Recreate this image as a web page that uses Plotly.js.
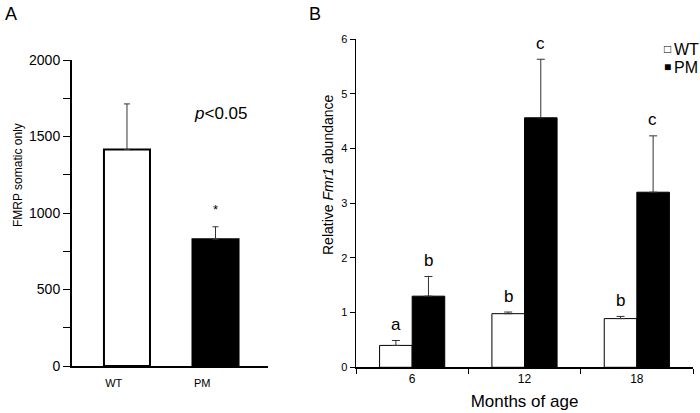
<!DOCTYPE html>
<html>
<head>
<meta charset="utf-8">
<script src="https://cdn.plot.ly/plotly-3.0.1.min.js"></script>
<style>html,body{margin:0;padding:0;background:#fff;}#chart{width:700px;height:413px;}</style>
</head>
<body>
<div id="chart"></div>
<script>
// Panel A data
const groupsA = ['WT', 'PM'];
const somaticA = [1415, 828];
const somaticErrA = [298, 82];
const yTicksA = [0, 250, 500, 750, 1000, 1250, 1500, 1750, 2000];
const yTickTextA = ['0', '', '500', '', '1000', '', '1500', '', '2000'];
// Panel B data
const months = ['6', '12', '18'];
const wtB = [0.40, 0.98, 0.89];
const wtErrB = [0.09, 0.03, 0.04];
const pmB = [1.30, 4.56, 3.20];
const pmErrB = [0.36, 1.07, 1.03];
const wtLetters = ['a', 'b', 'b'];
const pmLetters = ['b', 'c', 'c'];
const seriesNames = ['WT', 'PM'];

const FONT = 'Liberation Sans, Arial, sans-serif';
const W = 700, H = 413;
const px = v => v / W;
const py = v => (H - v) / H;

const posA = groupsA.map((_, i) => i);

const traces = [
  {
    type: 'bar', x: posA, y: somaticA, width: 0.52,
    xaxis: 'x', yaxis: 'y', showlegend: false,
    marker: { color: ['#ffffff', '#000000'], line: { color: '#000', width: 2 } },
    error_y: { type: 'data', array: somaticErrA, arrayminus: somaticA.map(() => 0), symmetric: false,
               color: '#333', thickness: 1, width: 3 }
  },
  {
    type: 'bar', name: seriesNames[0], x: months, y: wtB,
    xaxis: 'x2', yaxis: 'y2', showlegend: false,
    marker: { color: '#ffffff', line: { color: '#000', width: 1 } },
    error_y: { type: 'data', array: wtErrB, arrayminus: wtB.map(() => 0), symmetric: false,
               color: '#333', thickness: 1, width: 4 }
  },
  {
    type: 'bar', name: seriesNames[1], x: months, y: pmB,
    xaxis: 'x2', yaxis: 'y2', showlegend: false,
    marker: { color: '#000000', line: { color: '#000', width: 1 } },
    error_y: { type: 'data', array: pmErrB, arrayminus: pmB.map(() => 0), symmetric: false,
               color: '#333', thickness: 1, width: 4 }
  }
];

const annotations = [];
// Panel letters
annotations.push({ xref: 'paper', yref: 'paper', x: px(3), y: py(2), xanchor: 'left', yanchor: 'top',
  text: 'A', showarrow: false, font: { family: FONT, size: 18, color: '#000' } });
annotations.push({ xref: 'paper', yref: 'paper', x: px(307), y: py(2), xanchor: 'left', yanchor: 'top',
  text: 'B', showarrow: false, font: { family: FONT, size: 18, color: '#000' } });
// Axis titles
annotations.push({ xref: 'paper', yref: 'paper', x: px(9), y: py(175), textangle: -90,
  text: 'FMRP somatic only', showarrow: false, font: { family: FONT, size: 12, color: '#000' } });
annotations.push({ xref: 'paper', yref: 'paper', x: px(328), y: py(175), textangle: -90,
  text: 'Relative <i>Fmr1</i> abundance', showarrow: false, font: { family: FONT, size: 14, color: '#000' } });
// Panel A significance
annotations.push({ xref: 'x', yref: 'y', x: 1.06, y: 1650, text: '<i>p</i>&lt;0.05', showarrow: false,
  font: { family: FONT, size: 17, color: '#000' } });
annotations.push({ xref: 'x', yref: 'y', x: posA[1], y: somaticA[1] + somaticErrA[1], yshift: 17,
  text: '*', showarrow: false, font: { family: FONT, size: 13, color: '#000' } });
// Panel B letters (category index positions)
months.forEach((m, i) => {
  annotations.push({ xref: 'x2', yref: 'y2', x: i, y: wtB[i] + wtErrB[i], xshift: -16, yshift: 16,
    text: wtLetters[i], showarrow: false, font: { family: FONT, size: 17, color: '#000' } });
  annotations.push({ xref: 'x2', yref: 'y2', x: i, y: pmB[i] + pmErrB[i], xshift: 16, yshift: 16,
    text: pmLetters[i], showarrow: false, font: { family: FONT, size: 17, color: '#000' } });
});
// Legend (key) for panel B
const legendSymbols = ['□', '■'];
const legendRows = [49, 67];
seriesNames.forEach((name, i) => {
  annotations.push({ xref: 'paper', yref: 'paper', x: px(667), y: py(legendRows[i]), xanchor: 'center', yanchor: 'middle',
    text: legendSymbols[i], showarrow: false, font: { family: FONT, size: 12, color: '#000' } });
  annotations.push({ xref: 'paper', yref: 'paper', x: px(672), y: py(legendRows[i]), xanchor: 'left', yanchor: 'middle',
    text: name, showarrow: false, font: { family: FONT, size: 16, color: '#000' } });
});

const layout = {
  width: W, height: H,
  margin: { l: 0, r: 0, t: 0, b: 0, autoexpand: false },
  paper_bgcolor: '#fff', plot_bgcolor: 'rgba(0,0,0,0)',
  font: { family: FONT, color: '#000' },
  barmode: 'group', bargap: 0.42, bargroupgap: 0,
  showlegend: false,
  xaxis: {
    domain: [px(72), px(268)], range: [-0.621, 1.593], anchor: 'y',
    showgrid: false, zeroline: false, showline: true, linecolor: '#000', linewidth: 2,
    ticks: '', tickvals: posA.map(p => p - 0.15), ticktext: groupsA, ticklabelstandoff: 6,
    tickfont: { family: FONT, size: 11, color: '#000' }
  },
  yaxis: {
    domain: [py(366), py(60)], range: [0, 2000], anchor: 'x',
    showgrid: false, zeroline: false, showline: true, linecolor: '#000', linewidth: 2,
    ticks: 'outside', ticklen: 7, tickwidth: 1, tickcolor: '#000',
    tickmode: 'array', tickvals: yTicksA, ticktext: yTickTextA,
    tickfont: { family: FONT, size: 14, color: '#000' }
  },
  xaxis2: {
    domain: [px(356), px(693)], range: [-0.5, 2.5], anchor: 'y2', type: 'category',
    showgrid: false, zeroline: false, showline: true, linecolor: '#000', linewidth: 1.5,
    ticks: 'outside', tickson: 'boundaries', ticklen: 5, tickwidth: 1, tickcolor: '#000',
    tickfont: { family: FONT, size: 12, color: '#000' },
    title: { text: 'Months of age', font: { family: FONT, size: 17, color: '#000' }, standoff: 10 }
  },
  yaxis2: {
    domain: [py(367.3), py(39)], range: [0, 6], anchor: 'x2',
    showgrid: false, zeroline: false, showline: true, linecolor: '#000', linewidth: 1.5,
    ticks: 'outside', ticklen: 5, tickwidth: 1, tickcolor: '#000', dtick: 1,
    tickfont: { family: FONT, size: 11, color: '#000' }
  },
  annotations: annotations
};

Plotly.newPlot('chart', traces, layout, { displayModeBar: false, staticPlot: true });
</script>
</body>
</html>
